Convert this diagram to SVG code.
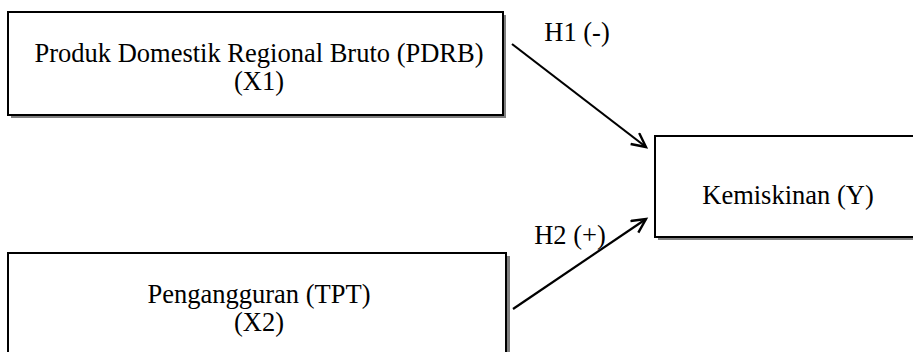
<svg xmlns="http://www.w3.org/2000/svg" width="913" height="352" viewBox="0 0 913 352">
<style>
.box{fill:#fff;stroke:#000;stroke-width:2}
.sh{fill:#808080}
.t{font-family:"Liberation Serif","Times New Roman",serif;font-size:26.5px;fill:#000;text-anchor:middle}
.c{stroke:#000;stroke-width:2.2;fill:none}
</style>
<defs>
<marker id="ah" markerWidth="18" markerHeight="18" refX="15" refY="8" orient="auto" markerUnits="userSpaceOnUse">
<path d="M1,1 L15,8 L1,15" fill="none" stroke="#000" stroke-width="2.4"/>
</marker>
</defs>
<rect width="913" height="352" fill="#fff"/>
<g id="x1">
<rect class="sh" x="11" y="15" width="495" height="103"/>
<rect class="box" x="8" y="12" width="495" height="103"/>
<text class="t" x="259" y="62">Produk Domestik Regional Bruto (PDRB)<tspan x="259" dy="28">(X1)</tspan></text>
</g>
<g id="x2">
<rect class="sh" x="11" y="256" width="499" height="110"/>
<rect class="box" x="8" y="253" width="498" height="110"/>
<text class="t" x="259" y="303">Pengangguran (TPT)<tspan x="259" dy="28">(X2)</tspan></text>
</g>
<g id="y">
<rect class="sh" x="658" y="139" width="270" height="101"/>
<rect class="box" x="655" y="136" width="270" height="101"/>
<text class="t" x="788" y="204">Kemiskinan (Y)</text>
</g>
<g id="connectors">
<line class="c" x1="512" y1="44" x2="646" y2="147" marker-end="url(#ah)"/>
<line class="c" x1="513" y1="309" x2="646" y2="219" marker-end="url(#ah)"/>
<text class="t" x="577" y="41">H1 (-)</text>
<text class="t" x="570" y="244">H2 (+)</text>
</g>
</svg>
